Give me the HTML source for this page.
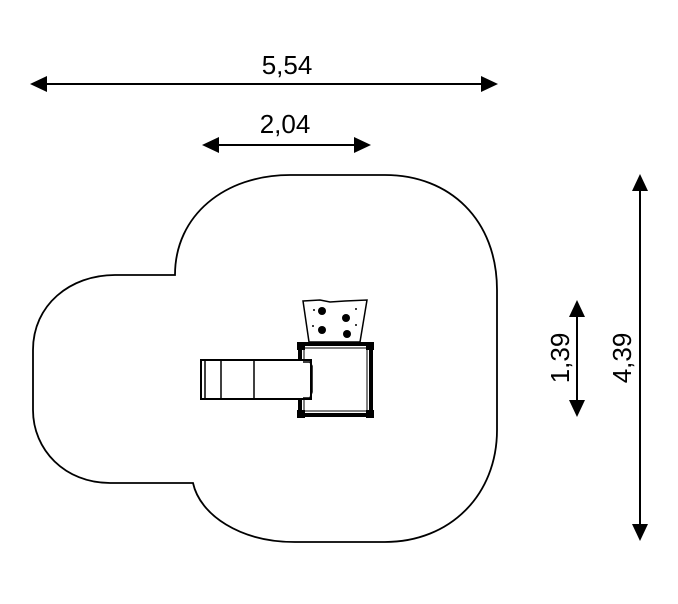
<!DOCTYPE html>
<html><head><style>html,body{margin:0;padding:0;background:#fff}</style></head>
<body>
<svg width="678" height="599" viewBox="0 0 678 599" xmlns="http://www.w3.org/2000/svg" font-family="Liberation Sans, sans-serif">
<rect width="678" height="599" fill="#fff"/>
<g fill="#000">
<line x1="40" y1="84" x2="488" y2="84" stroke="#000" stroke-width="2"/>
<polygon points="30,84 47,76 47,92"/><polygon points="498,84 481,76 481,92"/>
<line x1="212" y1="145" x2="361" y2="145" stroke="#000" stroke-width="2"/>
<polygon points="202,145 219,137 219,153"/><polygon points="371,145 354,137 354,153"/>
<line x1="640" y1="184" x2="640" y2="530" stroke="#000" stroke-width="2"/>
<polygon points="640,174 632,191 648,191"/><polygon points="640,541 632,524 648,524"/>
<line x1="577" y1="310" x2="577" y2="407" stroke="#000" stroke-width="2"/>
<polygon points="577,300 569,317 585,317"/><polygon points="577,417 569,400 585,400"/>
<text x="287" y="74" font-size="26" text-anchor="middle">5,54</text>
<text x="285" y="133" font-size="26" text-anchor="middle">2,04</text>
<text transform="translate(569,358) rotate(-90)" font-size="26" text-anchor="middle">1,39</text>
<text transform="translate(631,358) rotate(-90)" font-size="26" text-anchor="middle">4,39</text>
</g>
<path d="M175,275 C175,215 225,175 290,175 L385,175 C450,175 497,220 497,290 L497,430 C497,495 450,542 385,542 L295,542 C240,542 200,515 193,483 L110,483 C65,483 33,450 33,410 L33,350 C33,305 70,275 115,275 Z" fill="none" stroke="#000" stroke-width="1.8"/>
<g stroke="#000" fill="none">
<path d="M303,301 L320,300 L330,302 L345,301 L367,300 L360,342 L309,342 Z" stroke-width="1.5" fill="#fff"/>
<rect x="300" y="344" width="71" height="71" stroke-width="4" fill="#fff"/>
<rect x="304" y="348" width="63" height="63" stroke-width="1"/>
<rect x="201" y="360" width="110" height="39" stroke-width="2" fill="#fff"/>
<line x1="205" y1="360" x2="205" y2="399" stroke-width="1.5"/>
<line x1="221" y1="360" x2="221" y2="399" stroke-width="1.5"/>
<line x1="254" y1="360" x2="254" y2="399" stroke-width="1.5"/>
<path d="M303,362 L310,362 L312,366 L312,392 L310,398 L303,398" stroke-width="1.5"/>
</g>
<g fill="#000">
<ellipse cx="322" cy="311" rx="4" ry="4"/><ellipse cx="346" cy="318" rx="4" ry="4"/>
<ellipse cx="322" cy="330" rx="4" ry="4"/><ellipse cx="347" cy="334" rx="4" ry="4"/>
<circle cx="314" cy="310" r="1"/><circle cx="356" cy="309" r="1"/><circle cx="313" cy="326" r="1"/><circle cx="356" cy="325" r="1"/>
<rect x="297" y="342" width="8" height="8"/><rect x="366" y="342" width="8" height="8"/>
<rect x="297" y="410" width="8" height="8"/><rect x="366" y="410" width="8" height="8"/>
</g>
</svg>
</body></html>
